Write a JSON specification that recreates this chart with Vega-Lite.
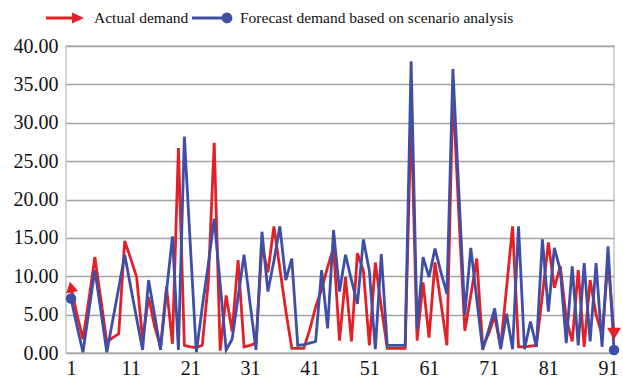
{
  "$schema": "https://vega.github.io/schema/vega-lite/v6.json",
  "width": 548,
  "height": 307,
  "autosize": "none",
  "padding": {"left": 66, "top": 46, "right": 9, "bottom": 29},
  "background": "white",
  "config": {
    "view": {"stroke": "#c4c4c4", "strokeWidth": 1.5},
    "font": "Liberation Serif",
    "axis": {"labelFont": "Liberation Serif", "labelFontSize": 20, "labelColor": "#111111", "title": null},
    "legend": {"labelFont": "Liberation Serif", "labelFontSize": 15.5, "labelColor": "#111111", "labelLimit": 500}
  },
  "data": {"values": [
    {"t":1,"actual":8.6,"forecast":7.1},{"t":2,"actual":5.0,"forecast":3.5},{"t":3,"actual":1.8,"forecast":0.1},{"t":4,"actual":7.0,"forecast":5.5},
    {"t":5,"actual":12.5,"forecast":10.8},{"t":6,"actual":7.0,"forecast":5.5},{"t":7,"actual":1.4,"forecast":0.1},{"t":8,"actual":2.0,"forecast":4.3},
    {"t":9,"actual":2.5,"forecast":8.5},{"t":10,"actual":14.6,"forecast":12.8},{"t":11,"actual":12.3,"forecast":8.6},{"t":12,"actual":9.9,"forecast":4.5},
    {"t":13,"actual":1.7,"forecast":0.4},{"t":14,"actual":7.3,"forecast":9.5},{"t":15,"actual":3.5,"forecast":5.0},{"t":16,"actual":0.8,"forecast":0.4},
    {"t":17,"actual":8.6,"forecast":8.0},{"t":18,"actual":1.2,"forecast":15.2},{"t":19,"actual":26.7,"forecast":0.4},{"t":20,"actual":1.0,"forecast":28.2},
    {"t":21,"actual":0.8,"forecast":14.0},{"t":22,"actual":0.7,"forecast":0.1},{"t":23,"actual":1.0,"forecast":6.0},{"t":24,"actual":9.1,"forecast":11.5},
    {"t":25,"actual":27.4,"forecast":17.5},{"t":26,"actual":0.3,"forecast":9.0},{"t":27,"actual":7.5,"forecast":0.4},{"t":28,"actual":2.8,"forecast":1.8},
    {"t":29,"actual":12.1,"forecast":7.3},{"t":30,"actual":0.8,"forecast":12.8},{"t":31,"actual":1.0,"forecast":6.5},{"t":32,"actual":1.3,"forecast":0.4},
    {"t":33,"actual":13.9,"forecast":15.8},{"t":34,"actual":10.5,"forecast":8.0},{"t":35,"actual":16.5,"forecast":12.0},{"t":36,"actual":11.0,"forecast":16.5},
    {"t":37,"actual":5.5,"forecast":9.5},{"t":38,"actual":0.6,"forecast":12.3},{"t":39,"actual":0.6,"forecast":1.0},{"t":40,"actual":0.6,"forecast":1.1},
    {"t":41,"actual":3.0,"forecast":1.3},{"t":42,"actual":6.0,"forecast":1.5},{"t":43,"actual":8.3,"forecast":10.8},{"t":44,"actual":11.2,"forecast":3.2},
    {"t":45,"actual":13.7,"forecast":16.0},{"t":46,"actual":1.6,"forecast":8.0},{"t":47,"actual":9.9,"forecast":12.8},{"t":48,"actual":1.5,"forecast":9.5},
    {"t":49,"actual":13.0,"forecast":6.4},{"t":50,"actual":10.7,"forecast":14.8},{"t":51,"actual":1.0,"forecast":10.7},{"t":52,"actual":11.8,"forecast":0.5},
    {"t":53,"actual":6.0,"forecast":12.9},{"t":54,"actual":0.6,"forecast":1.0},{"t":55,"actual":0.6,"forecast":1.0},{"t":56,"actual":0.6,"forecast":1.0},
    {"t":57,"actual":0.6,"forecast":1.0},{"t":58,"actual":31.0,"forecast":38.0},{"t":59,"actual":1.6,"forecast":3.1},{"t":60,"actual":9.2,"forecast":12.5},
    {"t":61,"actual":2.0,"forecast":9.9},{"t":62,"actual":11.8,"forecast":13.6},{"t":63,"actual":6.5,"forecast":10.5},{"t":64,"actual":1.0,"forecast":7.7},
    {"t":65,"actual":34.2,"forecast":37.0},{"t":66,"actual":18.0,"forecast":21.0},{"t":67,"actual":2.9,"forecast":5.0},{"t":68,"actual":7.5,"forecast":13.7},
    {"t":69,"actual":12.3,"forecast":7.0},{"t":70,"actual":0.8,"forecast":0.4},{"t":71,"actual":2.5,"forecast":3.0},{"t":72,"actual":4.8,"forecast":5.8},
    {"t":73,"actual":0.8,"forecast":0.5},{"t":74,"actual":8.5,"forecast":5.1},{"t":75,"actual":16.5,"forecast":0.5},{"t":76,"actual":0.8,"forecast":16.5},
    {"t":77,"actual":0.8,"forecast":0.5},{"t":78,"actual":0.9,"forecast":4.1},{"t":79,"actual":1.0,"forecast":0.8},{"t":80,"actual":7.5,"forecast":14.8},
    {"t":81,"actual":14.4,"forecast":5.4},{"t":82,"actual":8.5,"forecast":13.7},{"t":83,"actual":11.3,"forecast":10.8},{"t":84,"actual":4.5,"forecast":1.3},
    {"t":85,"actual":1.5,"forecast":11.3},{"t":86,"actual":10.8,"forecast":1.0},{"t":87,"actual":0.8,"forecast":11.7},{"t":88,"actual":9.5,"forecast":1.5},
    {"t":89,"actual":5.0,"forecast":11.7},{"t":90,"actual":2.3,"forecast":0.8},{"t":91,"actual":12.0,"forecast":13.9},{"t":92,"actual":2.5,"forecast":0.4}
  ]},
  "transform": [{"fold": ["actual", "forecast"], "as": ["series", "demand"]}],
  "encoding": {
    "x": {"field": "t", "type": "quantitative",
      "scale": {"domain": [0.16, 92], "nice": false, "zero": false},
      "axis": {"values": [1, 11, 21, 31, 41, 51, 61, 71, 81, 91], "grid": false, "domain": false, "ticks": false, "labelPadding": 5, "labelFlush": false,
        "labelFont": "Liberation Serif", "labelFontSize": 20, "labelColor": "#111111"}},
    "y": {"field": "demand", "type": "quantitative",
      "scale": {"domain": [0, 40], "nice": false},
      "axis": {"values": [0, 5, 10, 15, 20, 25, 30, 35, 40], "format": ".2f", "grid": true, "gridColor": "#a3a3a3", "gridWidth": 1.3, "domain": false, "ticks": false, "labelPadding": 8,
        "labelFont": "Liberation Serif", "labelFontSize": 20, "labelColor": "#111111"}}
  },
  "layer": [
    {
      "mark": {"type": "line", "strokeWidth": 2.8},
      "encoding": {
        "stroke": {"field": "series", "type": "nominal",
          "scale": {"domain": ["actual", "forecast"], "range": ["#e41f26", "#3f4fa6"]}, "legend": null}
      }
    },
    {
      "transform": [{"filter": "datum.series == 'forecast' && (datum.t == 1 || datum.t == 92)"}],
      "mark": {"type": "point", "shape": "circle", "filled": true, "size": 110, "color": "#3f4fa6", "opacity": 1}
    },
    {
      "transform": [{"filter": "datum.series == 'actual' && datum.t == 1"}],
      "mark": {"type": "point", "shape": "triangle-up", "angle": -12, "filled": true, "size": 150, "color": "#e41f26", "opacity": 1}
    },
    {
      "transform": [{"filter": "datum.series == 'actual' && datum.t == 92"}],
      "mark": {"type": "point", "shape": "triangle-down", "filled": true, "size": 190, "color": "#e41f26", "opacity": 1}
    },
    {
      "transform": [{"filter": "datum.series == 'actual'"}],
      "mark": {"type": "point", "filled": true, "size": 0},
      "encoding": {
        "fill": {"field": "series", "type": "nominal",
          "scale": {"domain": ["actual"], "range": ["#e41f26"]},
          "legend": {"orient": "none", "legendX": -21, "legendY": -48, "title": null,
            "labelOffset": 9, "symbolSize": 1600, "symbolOpacity": 1, "symbolStrokeWidth": 0, "labelLimit": 500,
            "symbolType": "M-0.95,-0.075 L0.35,-0.075 L0.35,-0.28 L0.95,0 L0.35,0.28 L0.35,0.075 L-0.95,0.075 Z",
            "labelExpr": "'Actual demand'"}}
      }
    },
    {
      "transform": [{"filter": "datum.series == 'forecast'"}],
      "mark": {"type": "point", "filled": true, "size": 0},
      "encoding": {
        "fill": {"field": "series", "type": "nominal",
          "scale": {"domain": ["forecast"], "range": ["#3f4fa6"]},
          "legend": {"orient": "none", "legendX": 126, "legendY": -48, "title": null,
            "labelOffset": 8, "symbolSize": 1600, "symbolOpacity": 1, "symbolStrokeWidth": 0, "labelLimit": 500,
            "symbolType": "M-1,-0.075 L0.49,-0.075 A0.27,0.27 0 1,1 0.49,0.075 L-1,0.075 Z",
            "labelExpr": "'Forecast demand based on scenario analysis'"}}
      }
    }
  ],
  "resolve": {"scale": {"fill": "independent"}, "legend": {"fill": "independent"}}
}
